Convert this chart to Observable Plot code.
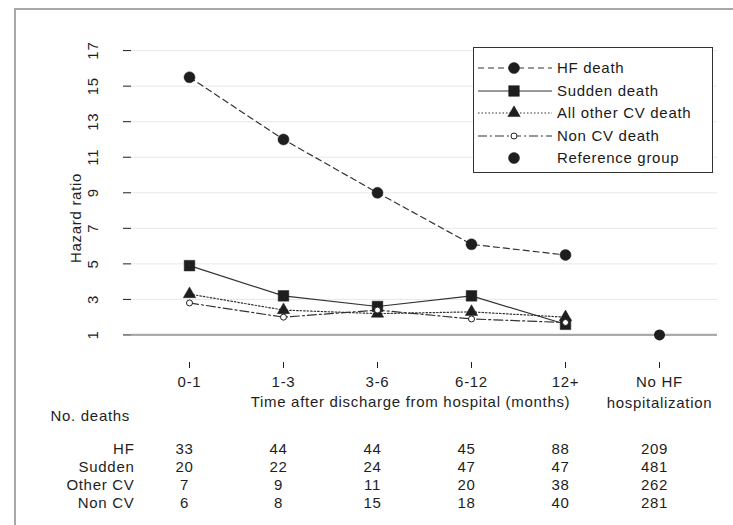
<!DOCTYPE html>
<html><head><meta charset="utf-8">
<script src="https://cdn.jsdelivr.net/npm/d3@7"></script>
<script src="https://cdn.jsdelivr.net/npm/@observablehq/plot@0.6"></script>
<style>
html,body{margin:0;padding:0;background:#fff;overflow:hidden}
body{width:733px;height:525px;position:relative;font-family:"Liberation Sans",Arial,sans-serif;color:#1a1a1a}
#border{position:absolute;left:14px;top:8px;width:800px;height:600px;border:2px solid #a8a8a8;pointer-events:none}
#chart{position:absolute;left:0;top:0}
#legend{position:absolute;left:473px;top:47px;width:238px;height:124px;border:1.5px solid #333;background:#fff;font-size:15px;letter-spacing:0.7px}
.lg-row{position:absolute;left:0;height:22px;width:100%}
.lg-row svg{position:absolute;left:2px;top:0}
.lg-row span{position:absolute;left:83px;top:2px;white-space:nowrap}
</style></head><body>
<div id="chart"></div>
<div id="border"></div>
<div id="legend"></div>
<script>
// ---- data ----
const categories = ["0-1", "1-3", "3-6", "6-12", "12+", "No HF hospitalization"];
const tickLabels = ["0-1", "1-3", "3-6", "6-12", "12+", "No HF\nhospitalization"];
const periods = ["0-1", "1-3", "3-6", "6-12", "12+"];
const hfDeath = [15.5, 12.0, 9.0, 6.1, 5.5];
const suddenDeath = [4.9, 3.2, 2.6, 3.2, 1.6];
const otherCvDeath = [3.3, 2.4, 2.2, 2.3, 2.0];
const nonCvDeath = [2.8, 2.0, 2.4, 1.9, 1.7];
const referenceCategory = ["No HF hospitalization"];
const referenceGroup = [1.0];
const referenceLevel = [1];
const yTicks = [1, 3, 5, 7, 9, 11, 13, 15, 17];
const yDomain = [-0.55, 17.4];
const tableTitle = "No. deaths";
const tableRows = ["HF", "Sudden", "Other CV", "Non CV"];
const deathsHF = [33, 44, 44, 45, 88, 209];
const deathsSudden = [20, 22, 24, 47, 47, 481];
const deathsOtherCV = [7, 9, 11, 20, 38, 262];
const deathsNonCV = [6, 8, 15, 18, 40, 281];
const legendLabels = ["HF death", "Sudden death", "All other CV death", "Non CV death", "Reference group"];
const xTitle = "Time after discharge from hospital (months)";
const yTitle = "Hazard ratio";

// ---- styles ----
const ink = "#1e1e1e";
const lineInk = "#333";
const series = [
  {values: hfDeath, dash: "6,4", symbol: "circle", r: 5.5, fill: ink, d3sym: d3.symbolCircle},
  {values: suddenDeath, dash: null, symbol: "square", r: 6, fill: ink, d3sym: d3.symbolSquare},
  {values: otherCvDeath, dash: "1.5,2", symbol: "triangle", r: 4.6, fill: ink, d3sym: d3.symbolTriangle},
  {values: nonCvDeath, dash: "9,3,2,3", symbol: "circle", r: 3, fill: "#fff", d3sym: d3.symbolCircle}
];
const pts = (vals) => vals.map((v, i) => ({x: periods[i], y: v}));
const deathRows = [deathsHF, deathsSudden, deathsOtherCV, deathsNonCV];

const fontCss = {fontFamily: "'Liberation Sans', Arial, sans-serif", fontSize: "15px", letterSpacing: "0.7px", color: ink, background: "transparent", overflow: "visible"};

const marks = [
  Plot.gridY(yTicks, {stroke: "#d8d8d8", strokeOpacity: 0.6}),
  Plot.ruleY(referenceLevel, {stroke: "#aaa", strokeWidth: 2.2}),
  ...series.map(s => Plot.line(pts(s.values), {x: "x", y: "y", stroke: lineInk, strokeWidth: 1.2, strokeDasharray: s.dash})),
  ...series.map(s => Plot.dot(pts(s.values), {x: "x", y: "y", symbol: s.symbol, r: s.r, fill: s.fill, stroke: ink, strokeWidth: s.fill === "#fff" ? 1 : 0.5})),
  Plot.dot(referenceGroup, {x: (d, i) => referenceCategory[i], y: d => d, r: 5.5, fill: ink}),
  Plot.axisY({ticks: yTicks, tickRotate: -90, tickSize: 8, tickPadding: 26, line: true, label: null, stroke: ink}),
  Plot.axisX({tickFormat: d => tickLabels[categories.indexOf(d)], tickSize: 6, tickPadding: 4, lineHeight: 1.4, line: true, label: null, stroke: ink}),
  Plot.text([yTitle], {frameAnchor: "left", textAnchor: "middle", rotate: -90, dx: -55, dy: 15}),
  Plot.text([xTitle], {frameAnchor: "bottom", dx: -14, dy: 44}),
  Plot.text([tableTitle], {frameAnchor: "bottom-left", textAnchor: "start", dx: -81, dy: 58}),
  ...tableRows.map((r, i) => Plot.text([r], {frameAnchor: "bottom-left", textAnchor: "end", dx: 3, dy: 91 + 18 * i})),
  ...deathRows.map((vals, i) => Plot.text(vals, {x: (d, j) => categories[j], text: d => String(d), frameAnchor: "bottom", dx: -5, dy: 91 + 18 * i}))
];

const chart = Plot.plot({
  width: 733, height: 525,
  marginLeft: 131, marginRight: 16, marginTop: 43, marginBottom: 163,
  style: fontCss,
  x: {type: "point", domain: categories, padding: 0.61, axis: null},
  y: {domain: yDomain, axis: null},
  marks
});
document.getElementById("chart").append(chart);

// ---- legend ----
const legend = d3.select("#legend");
const legendStyles = [...series, {dash: "none", r: 5.5, fill: ink, d3sym: d3.symbolCircle, noLine: true}];
legendLabels.forEach((label, i) => {
  const s = legendStyles[i];
  const row = legend.append("div").attr("class", "lg-row").style("top", (9 + i * 22.6) + "px");
  const svg = row.append("svg").attr("width", 78).attr("height", 22);
  if (!s.noLine) svg.append("line").attr("x1", 2).attr("x2", 76).attr("y1", 11).attr("y2", 11)
    .attr("stroke", lineInk).attr("stroke-width", 1.2).attr("stroke-dasharray", s.dash || null);
  svg.append("path").attr("transform", "translate(38,11)")
    .attr("d", d3.symbol(s.d3sym, Math.PI * s.r * s.r)())
    .attr("fill", s.fill).attr("stroke", ink).attr("stroke-width", s.fill === "#fff" ? 1 : 0.5);
  row.append("span").text(label);
});
</script>
</body></html>
